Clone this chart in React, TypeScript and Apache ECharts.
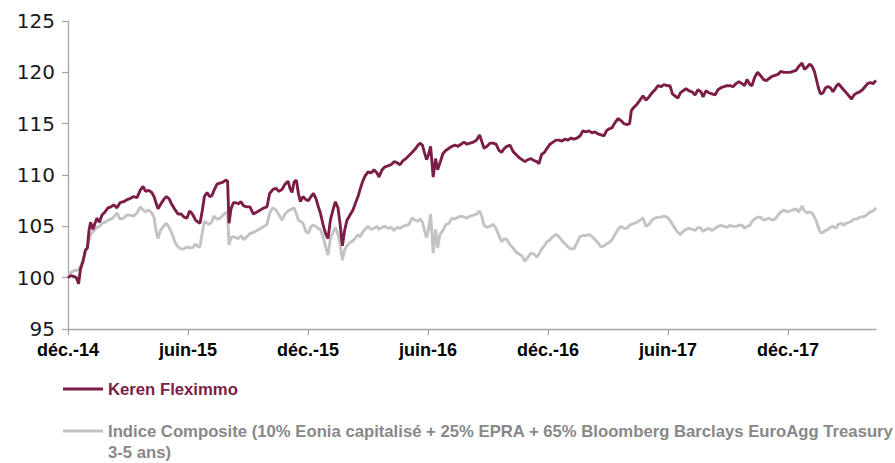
import React, { useEffect, useRef } from "react";
import * as echarts from "echarts";

// months elapsed since 31 Dec 2014
const monthsSinceDec14 = [
  0.00,0.15,0.30,0.42,0.53,0.62,0.75,0.87,0.97,1.05,
  1.13,1.25,1.35,1.45,1.57,1.70,1.85,2.00,2.15,2.28,
  2.45,2.60,2.78,2.95,3.10,3.28,3.45,3.61,3.75,3.88,
  4.03,4.19,4.30,4.40,4.50,4.62,4.78,4.92,5.05,5.20,
  5.36,5.50,5.65,5.80,5.95,6.08,6.22,6.38,6.50,6.60,
  6.72,6.82,6.95,7.08,7.20,7.30,7.45,7.60,7.75,7.88,
  7.98,8.05,8.15,8.27,8.40,8.52,8.65,8.78,8.95,9.10,
  9.27,9.45,9.62,9.80,9.95,10.08,10.25,10.40,10.55,10.70,
  10.85,11.00,11.10,11.20,11.30,11.42,11.52,11.62,11.75,11.90,
  12.02,12.15,12.27,12.40,12.50,12.62,12.75,12.88,13.00,13.12,
  13.25,13.37,13.50,13.60,13.72,13.83,13.95,14.10,14.25,14.38,
  14.50,14.62,14.72,14.85,15.00,15.15,15.30,15.45,15.55,15.70,
  15.85,16.00,16.15,16.30,16.45,16.60,16.75,16.90,17.05,17.20,
  17.35,17.50,17.62,17.72,17.82,17.93,18.03,18.13,18.26,18.38,
  18.48,18.60,18.75,18.90,19.05,19.20,19.35,19.50,19.65,19.80,
  19.95,20.10,20.27,20.43,20.58,20.70,20.80,20.95,21.10,21.25,
  21.40,21.55,21.68,21.82,21.95,22.10,22.25,22.40,22.55,22.70,
  22.84,23.00,23.15,23.30,23.45,23.55,23.68,23.82,23.95,24.10,
  24.25,24.40,24.55,24.70,24.85,25.00,25.15,25.30,25.45,25.60,
  25.75,25.90,26.05,26.20,26.35,26.50,26.65,26.80,26.92,27.05,
  27.20,27.35,27.50,27.65,27.80,27.95,28.08,28.17,28.30,28.45,
  28.60,28.75,28.90,29.05,29.20,29.35,29.50,29.65,29.80,29.95,
  30.10,30.22,30.35,30.50,30.62,30.75,30.90,31.05,31.20,31.35,
  31.50,31.65,31.75,31.90,32.05,32.20,32.35,32.50,32.65,32.80,
  32.95,33.10,33.25,33.40,33.55,33.70,33.83,33.95,34.10,34.20,
  34.33,34.48,34.62,34.78,34.92,35.05,35.20,35.35,35.50,35.65,
  35.80,35.95,36.10,36.25,36.40,36.55,36.70,36.82,36.95,37.08,
  37.20,37.32,37.42,37.52,37.62,37.75,37.88,38.00,38.12,38.25,
  38.40,38.52,38.65,38.78,38.92,39.05,39.18,39.30,39.45,39.58,
  39.72,39.85,39.98,40.12,40.25,40.40,
];

const kerenFleximmo = [
  100.0,100.2,100.1,100.0,99.4,100.8,101.6,102.7,102.9,104.6,
  105.4,104.7,105.3,105.8,105.4,106.1,106.4,106.8,106.9,107.1,
  106.8,107.3,107.4,107.6,107.7,107.9,107.8,108.5,108.9,108.4,
  108.5,108.3,107.9,107.3,106.7,107.1,107.6,107.9,107.7,107.1,
  106.6,106.2,106.2,105.9,105.8,106.5,106.2,105.6,105.4,105.3,
  106.6,107.9,108.3,107.9,108.0,108.5,109.1,109.2,109.3,109.5,
  109.4,105.3,106.7,107.3,107.3,107.2,107.4,107.0,106.9,106.9,
  106.2,106.4,106.6,106.8,106.9,108.2,108.6,108.7,108.4,108.6,
  109.1,109.4,108.7,108.3,109.3,109.5,108.2,107.4,107.9,107.6,
  107.5,107.9,108.2,107.7,107.0,106.3,105.2,104.3,103.8,105.6,
  106.6,107.4,106.8,105.3,103.1,104.6,105.6,106.1,106.6,107.3,
  107.9,108.7,109.3,109.9,110.3,110.2,110.5,110.2,109.8,110.5,
  110.8,110.9,111.0,111.3,111.2,111.0,111.4,111.6,111.9,112.2,
  112.5,112.9,113.1,112.9,112.2,111.5,112.0,112.8,109.8,111.6,
  110.5,111.2,112.1,112.4,112.6,112.8,112.9,112.8,113.0,113.2,
  113.0,113.1,113.2,113.4,113.9,113.2,112.6,112.8,113.1,113.1,
  113.0,112.4,112.2,112.6,112.8,112.9,112.3,112.0,111.7,111.5,
  111.3,111.5,111.6,111.4,111.3,111.1,112.0,112.2,112.6,113.0,
  113.2,113.4,113.4,113.3,113.5,113.4,113.6,113.5,113.6,113.8,
  114.3,114.2,114.3,114.1,114.2,114.0,113.9,113.8,114.3,114.5,
  114.6,115.1,115.5,115.3,115.0,114.9,115.0,116.3,116.6,116.9,
  117.3,117.7,117.3,117.6,118.0,118.3,118.7,118.6,118.8,118.7,
  118.7,117.9,117.7,117.5,118.0,118.2,118.4,118.2,118.1,117.8,
  118.3,118.1,117.6,118.2,118.0,117.9,117.8,118.3,118.5,118.6,
  118.7,118.7,118.6,118.9,119.1,118.9,118.7,119.3,118.8,118.7,
  119.5,120.0,119.7,119.3,119.2,119.4,119.6,119.7,119.8,120.1,
  120.0,120.0,120.0,120.1,120.2,120.6,120.9,120.3,120.5,120.8,
  120.6,120.1,119.3,118.5,117.9,118.0,118.5,118.6,118.5,118.1,
  118.6,118.9,118.6,118.3,118.0,117.7,117.4,117.8,118.0,118.1,
  118.3,118.6,118.9,119.0,118.9,119.2,
];

const indiceComposite = [
  100.2,100.5,100.7,100.7,100.8,101.1,101.6,102.5,103.0,103.6,
  104.2,104.5,104.7,104.9,105.0,105.3,105.4,105.6,105.7,105.9,
  106.3,105.7,105.8,106.1,106.1,106.0,106.3,106.9,106.6,106.4,
  106.6,106.3,105.9,104.6,103.8,104.6,105.0,105.3,104.9,104.3,
  103.4,103.0,102.8,102.8,103.0,102.9,102.9,103.3,103.0,103.0,
  104.5,105.5,105.3,105.2,105.5,106.0,105.7,105.8,106.1,106.3,
  106.4,103.2,103.9,104.0,103.9,103.8,104.1,103.7,104.0,104.3,
  104.4,104.6,104.8,105.0,105.2,106.3,106.8,106.6,106.1,105.6,
  106.2,106.5,106.6,106.7,106.8,106.2,105.6,105.5,105.3,104.5,
  104.3,105.0,105.1,105.0,104.8,104.7,104.0,103.0,102.2,103.8,
  104.4,104.9,104.2,103.3,101.7,102.7,103.1,103.4,103.6,103.9,
  104.2,104.0,104.4,104.7,105.0,104.7,104.8,105.0,104.7,104.9,
  105.0,104.8,104.9,104.6,104.9,104.8,105.0,105.1,105.2,105.8,
  105.6,105.5,105.7,105.4,104.6,103.9,104.8,106.2,102.4,104.7,
  102.9,104.2,104.6,105.2,105.3,105.8,105.7,105.9,106.0,105.9,
  105.8,106.0,106.1,106.2,106.5,105.9,105.1,104.9,105.0,105.2,
  104.8,104.1,103.5,103.8,103.7,103.2,102.9,102.5,102.3,102.1,
  101.6,102.0,102.4,102.3,102.0,102.3,102.8,103.1,103.5,103.7,
  104.0,104.2,104.0,103.6,103.3,103.0,102.8,102.8,103.4,104.0,
  104.1,104.1,104.2,104.0,103.7,103.4,103.0,103.1,103.3,103.4,
  103.7,104.2,104.7,105.0,104.8,104.8,105.1,105.2,105.3,105.4,
  105.6,105.8,105.0,105.2,105.6,105.8,105.9,105.9,106.0,105.9,
  105.6,105.2,104.8,104.4,104.2,104.5,104.7,104.8,104.7,104.6,
  104.9,104.8,104.5,104.7,104.8,104.6,104.8,105.0,105.1,105.0,
  104.9,105.1,105.0,105.0,105.1,105.1,104.8,105.0,105.1,105.5,
  105.7,105.9,105.9,105.6,105.7,105.8,105.6,105.7,106.1,106.4,
  106.6,106.4,106.5,106.6,106.7,106.4,107.0,106.5,106.3,106.4,
  106.3,105.9,105.5,104.9,104.4,104.4,104.6,104.7,104.9,105.0,
  104.8,105.2,105.3,105.1,105.3,105.4,105.5,105.7,105.7,105.9,
  105.9,106.0,106.2,106.4,106.5,106.8,
];

const tickMonths = [0, 6, 12, 18, 24, 30, 36];
const tickLabels = ["déc.-14", "juin-15", "déc.-15", "juin-16", "déc.-16", "juin-17", "déc.-17"];

const SERIES_KEREN = "Keren Fleximmo";
const SERIES_INDICE =
  "Indice Composite (10% Eonia capitalisé + 25% EPRA + 65% Bloomberg Barclays EuroAgg Treasury 3-5 ans)";

const KEREN_COLOR = "#7b1d46";
const INDICE_COLOR = "#c3c3c3";
const AXIS_COLOR = "#a6a6a6";

export default function App() {
  const ref = useRef<HTMLDivElement>(null);

  useEffect(() => {
    if (!ref.current) return;
    const chart = echarts.init(ref.current, undefined, { renderer: "svg" });
    const lastMonth = monthsSinceDec14[monthsSinceDec14.length - 1];
    const legendText = {
      fontFamily: "Liberation Sans, Arial, sans-serif",
      fontWeight: "bold" as const,
      fontSize: 16.7,
      lineHeight: 21,
    };
    chart.setOption({
      animation: false,
      backgroundColor: "#ffffff",
      grid: { left: 68, right: 19, top: 21, bottom: 134, containLabel: false },
      xAxis: {
        type: "value",
        min: 0,
        max: lastMonth,
        interval: 6,
        axisLine: { show: true, lineStyle: { color: AXIS_COLOR, width: 1.3 } },
        axisTick: {
          show: true,
          inside: false,
          length: 6,
          customValues: tickMonths,
          lineStyle: { color: AXIS_COLOR, width: 1.3 },
        },
        axisLabel: {
          customValues: tickMonths,
          margin: 12,
          color: "#000000",
          fontFamily: "Liberation Sans, Arial, sans-serif",
          fontWeight: "bold",
          fontSize: 18,
          formatter: (v: number) => tickLabels[tickMonths.indexOf(Math.round(v))] ?? "",
        },
        splitLine: { show: false },
      },
      yAxis: {
        type: "value",
        min: 95,
        max: 125,
        interval: 5,
        axisLine: { show: true, lineStyle: { color: AXIS_COLOR, width: 1.3 } },
        axisTick: { show: true, inside: false, length: 6, lineStyle: { color: AXIS_COLOR, width: 1.3 } },
        axisLabel: {
          margin: 13,
          color: "#1a1a1a",
          fontFamily: "DejaVu Sans, sans-serif",
          fontSize: 20,
        },
        splitLine: { show: false },
      },
      legend: [
        {
          data: [SERIES_KEREN],
          left: 63,
          top: 378.5,
          padding: 0,
          icon: "rect",
          itemWidth: 40,
          itemHeight: 3,
          selectedMode: false,
          textStyle: { ...legendText, color: KEREN_COLOR },
        },
        {
          data: [SERIES_INDICE],
          left: 63,
          top: 399.5,
          padding: 0,
          icon: "rect",
          itemWidth: 40,
          itemHeight: 3,
          selectedMode: false,
          formatter: (name: string) => "\n" + name.replace(" 3-5 ans)", "\n3-5 ans)"),
          textStyle: { ...legendText, color: "#888888" },
        },
      ],
      series: [
        {
          name: SERIES_KEREN,
          type: "line",
          showSymbol: false,
          symbol: "none",
          z: 3,
          color: KEREN_COLOR,
          lineStyle: { color: KEREN_COLOR, width: 2.9 },
          data: monthsSinceDec14.map((m, i) => [m, kerenFleximmo[i]]),
        },
        {
          name: SERIES_INDICE,
          type: "line",
          showSymbol: false,
          symbol: "none",
          z: 2,
          color: INDICE_COLOR,
          lineStyle: { color: INDICE_COLOR, width: 2.9 },
          data: monthsSinceDec14.map((m, i) => [m, indiceComposite[i]]),
        },
      ],
    });
    return () => chart.dispose();
  }, []);

  return (
    <div
      ref={ref}
      style={{ position: "absolute", left: 0, top: 0, width: 895, height: 463, background: "#fff" }}
    />
  );
}
